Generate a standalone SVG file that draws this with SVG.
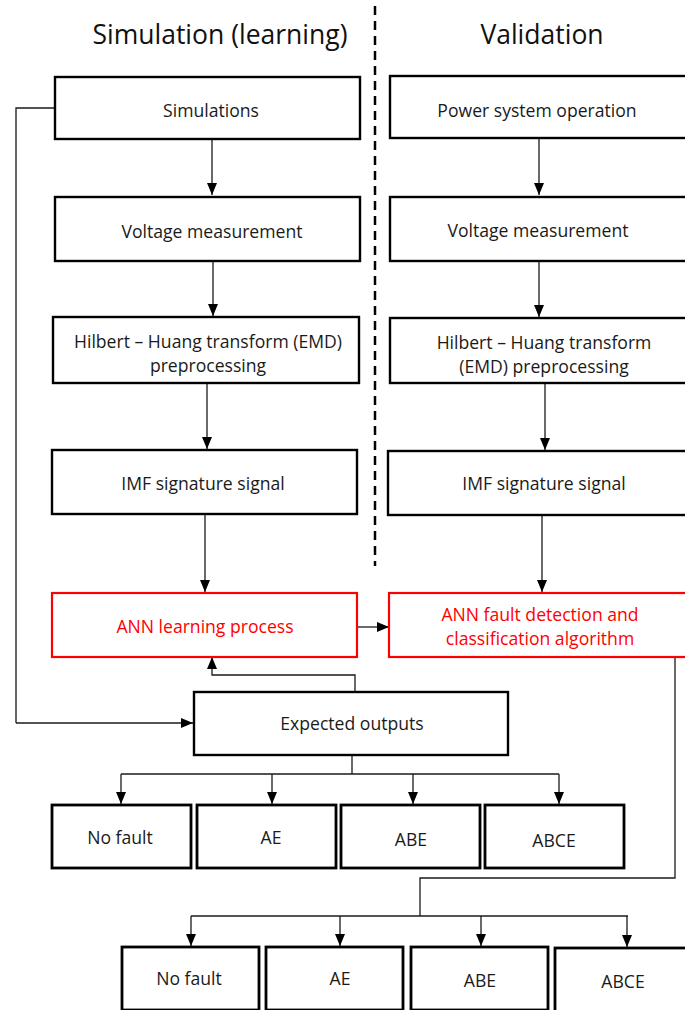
<svg xmlns="http://www.w3.org/2000/svg" width="685" height="1010" viewBox="0 0 685 1010">
  <style>
    .box { fill: #ffffff; stroke: #000000; stroke-width: 2.4; }
    .box-red { fill: #ffffff; stroke: #ff0000; stroke-width: 2.2; }
    .box-out { fill: #ffffff; stroke: #000000; stroke-width: 2.8; }
    .lbl { font-family: "Open Sans", Lato, sans-serif; font-size: 17.6px; fill: #1a1a1a; text-anchor: middle; dominant-baseline: central; }
    .lbl-red { font-family: "Open Sans", Lato, sans-serif; font-size: 17.6px; fill: #ff0000; text-anchor: middle; dominant-baseline: central; }
    .title { font-family: "Open Sans", Lato, sans-serif; font-size: 26.5px; fill: #111111; text-anchor: middle; dominant-baseline: central; }
    .wire { fill: none; stroke: #1a1a1a; stroke-width: 1.3; }
    .wire-grey { fill: none; stroke: #666666; stroke-width: 1.6; }
    .divider { fill: none; stroke: #000000; stroke-width: 2.5; stroke-dasharray: 9 6; }
  </style>
  <defs>
    <marker id="tip" viewBox="0 0 12 10" refX="12" refY="5" markerWidth="12" markerHeight="10" markerUnits="userSpaceOnUse" orient="auto">
      <path d="M0,0 L12,5 L0,10 Z" fill="#000000"/>
    </marker>
  </defs>

  <rect x="0" y="0" width="685" height="1010" fill="#ffffff"/>

  <!-- column headings and separator -->
  <g id="headings">
    <text class="title" x="220" y="34">Simulation (learning)</text>
    <text class="title" x="542" y="34">Validation</text>
    <line class="divider" x1="375" y1="6" x2="375" y2="566"/>
  </g>

  <!-- connectors -->
  <g id="connectors">
    <line class="wire" x1="212" y1="139" x2="212" y2="195" marker-end="url(#tip)"/>
    <line class="wire" x1="539" y1="138" x2="539" y2="195" marker-end="url(#tip)"/>
    <line class="wire" x1="213" y1="261" x2="213" y2="316" marker-end="url(#tip)"/>
    <line class="wire" x1="539" y1="262" x2="539" y2="317" marker-end="url(#tip)"/>
    <line class="wire" x1="207" y1="384" x2="207" y2="449" marker-end="url(#tip)"/>
    <line class="wire" x1="545" y1="384" x2="545" y2="450" marker-end="url(#tip)"/>
    <line class="wire" x1="205" y1="514" x2="205" y2="592" marker-end="url(#tip)"/>
    <line class="wire" x1="542" y1="516" x2="542" y2="592" marker-end="url(#tip)"/>
    <line class="wire" x1="358" y1="627" x2="389" y2="627" marker-end="url(#tip)"/>
    <!-- feedback from expected outputs into learning -->
    <polyline class="wire" points="355,692 355,675 212,675 212,657" marker-end="url(#tip)"/>
    <!-- simulations routed down to expected outputs -->
    <polyline class="wire" points="55,108 16,108 16,723"/>
    <polyline class="wire" points="16,723 193,723" marker-end="url(#tip)"/>
    <line class="wire-grey" x1="16" y1="110" x2="16" y2="722"/>
    <!-- expected outputs fan-out -->
    <line class="wire" x1="352" y1="756" x2="352" y2="774"/>
    <line class="wire" x1="121" y1="774" x2="559" y2="774"/>
    <line class="wire" x1="121" y1="774" x2="121" y2="804" marker-end="url(#tip)"/>
    <line class="wire" x1="272" y1="774" x2="272" y2="804" marker-end="url(#tip)"/>
    <line class="wire" x1="413" y1="774" x2="413" y2="804" marker-end="url(#tip)"/>
    <line class="wire" x1="559" y1="774" x2="559" y2="804" marker-end="url(#tip)"/>
    <!-- detection algorithm fan-out -->
    <polyline class="wire" points="675,658 675,878 420,878 420,916"/>
    <line class="wire" x1="191" y1="916" x2="628" y2="916"/>
    <line class="wire" x1="191" y1="916" x2="191" y2="946" marker-end="url(#tip)"/>
    <line class="wire" x1="340" y1="916" x2="340" y2="946" marker-end="url(#tip)"/>
    <line class="wire" x1="481" y1="916" x2="481" y2="946" marker-end="url(#tip)"/>
    <line class="wire" x1="627" y1="916" x2="627" y2="947" marker-end="url(#tip)"/>
  </g>

  <!-- simulation column -->
  <g id="simulations">
    <rect class="box" x="55" y="77" width="305" height="62"/>
    <text class="lbl" x="211" y="110">Simulations</text>
  </g>
  <g id="sim-voltage">
    <rect class="box" x="55" y="197" width="305" height="64"/>
    <text class="lbl" x="212" y="231">Voltage measurement</text>
  </g>
  <g id="sim-hht">
    <rect class="box" x="53" y="317" width="306" height="66"/>
    <text class="lbl" x="208" y="341">Hilbert – Huang transform (EMD)</text>
    <text class="lbl" x="208" y="365">preprocessing</text>
  </g>
  <g id="sim-imf">
    <rect class="box" x="52" y="450" width="305" height="64"/>
    <text class="lbl" x="203" y="483">IMF signature signal</text>
  </g>
  <g id="ann-learning">
    <rect class="box-red" x="52" y="593" width="305" height="64"/>
    <text class="lbl-red" x="205" y="626">ANN learning process</text>
  </g>

  <!-- validation column -->
  <g id="power-system">
    <rect class="box" x="390" y="76" width="300" height="62"/>
    <text class="lbl" x="537" y="110">Power system operation</text>
  </g>
  <g id="val-voltage">
    <rect class="box" x="390" y="197" width="300" height="64"/>
    <text class="lbl" x="538" y="230">Voltage measurement</text>
  </g>
  <g id="val-hht">
    <rect class="box" x="390" y="318" width="300" height="65"/>
    <text class="lbl" x="544" y="342">Hilbert – Huang transform</text>
    <text class="lbl" x="544" y="366">(EMD) preprocessing</text>
  </g>
  <g id="val-imf">
    <rect class="box" x="388" y="451" width="302" height="64"/>
    <text class="lbl" x="544" y="483">IMF signature signal</text>
  </g>
  <g id="ann-detection">
    <rect class="box-red" x="389" y="593" width="300" height="64"/>
    <text class="lbl-red" x="540" y="614">ANN fault detection and</text>
    <text class="lbl-red" x="540" y="638">classification algorithm</text>
  </g>

  <!-- expected outputs -->
  <g id="expected-outputs">
    <rect class="box" x="194" y="692" width="314" height="63"/>
    <text class="lbl" x="352" y="723">Expected outputs</text>
  </g>

  <!-- training classes -->
  <g id="train-nofault">
    <rect class="box-out" x="52" y="805" width="139" height="63"/>
    <text class="lbl" x="120" y="837">No fault</text>
  </g>
  <g id="train-ae">
    <rect class="box-out" x="197" y="805" width="139" height="63"/>
    <text class="lbl" x="271" y="837">AE</text>
  </g>
  <g id="train-abe">
    <rect class="box-out" x="341" y="805" width="139" height="63"/>
    <text class="lbl" x="411" y="839">ABE</text>
  </g>
  <g id="train-abce">
    <rect class="box-out" x="485" y="805" width="139" height="63"/>
    <text class="lbl" x="554" y="840">ABCE</text>
  </g>

  <!-- detected classes -->
  <g id="detect-nofault">
    <rect class="box-out" x="122" y="947" width="137" height="63"/>
    <text class="lbl" x="189" y="978">No fault</text>
  </g>
  <g id="detect-ae">
    <rect class="box-out" x="266" y="947" width="137" height="63"/>
    <text class="lbl" x="340" y="978">AE</text>
  </g>
  <g id="detect-abe">
    <rect class="box-out" x="411" y="947" width="137" height="63"/>
    <text class="lbl" x="480" y="980">ABE</text>
  </g>
  <g id="detect-abce">
    <rect class="box-out" x="555" y="948" width="140" height="64"/>
    <text class="lbl" x="623" y="981">ABCE</text>
  </g>
</svg>
